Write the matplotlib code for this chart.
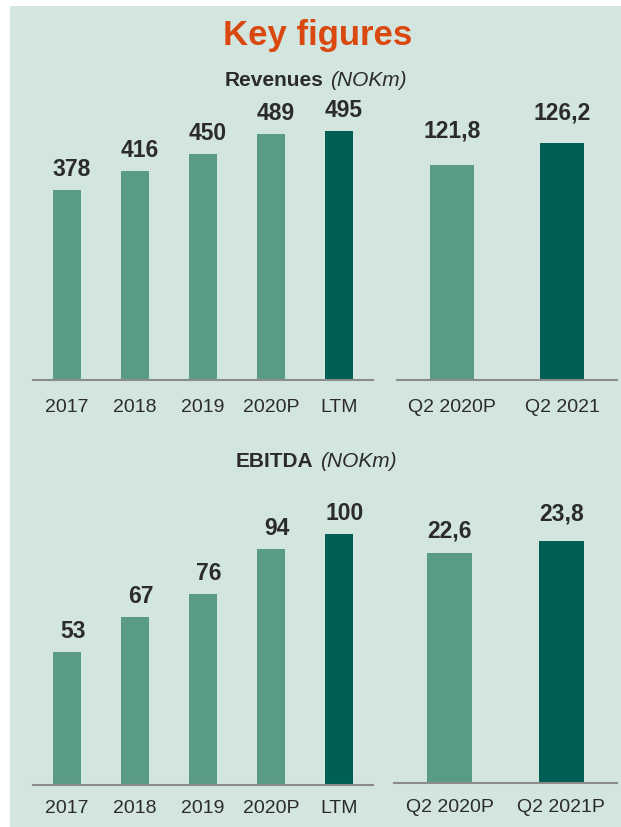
import matplotlib
matplotlib.use("Agg")
import matplotlib.pyplot as plt
from matplotlib.patches import Rectangle

plt.rcParams['font.family'] = ['Liberation Sans', 'DejaVu Sans']

# data
years = ["2017", "2018", "2019", "2020P", "LTM"]
revenues = [378, 416, 450, 489, 495]
ebitda = [53, 67, 76, 94, 100]
rev_q_labels = ["Q2 2020P", "Q2 2021"]
rev_q = [121.8, 126.2]
ebitda_q_labels = ["Q2 2020P", "Q2 2021P"]
ebitda_q = [22.6, 23.8]

LIGHT = "#5a9b84"
DARK = "#005f55"
BG = "#d3e5df"
TXT = "#2b2b2b"
LINE = "#8c8c8c"

W, H = 621, 828
fig = plt.figure(figsize=(W / 100, H / 100), dpi=100)
fig.patch.set_facecolor("white")
fig.patches.append(Rectangle((10 / W, 0), 1 - 10 / W, 1 - 7 / H,
                             transform=fig.transFigure, facecolor=BG,
                             edgecolor="none", zorder=-5))


def px_axes(x0, x1, y0, y1):
    ax = fig.add_axes([x0 / W, 1 - y1 / H, (x1 - x0) / W, (y1 - y0) / H])
    ax.set_facecolor("none")
    return ax


def fmt(v):
    if float(v).is_integer():
        return "%d" % v
    return ("%.1f" % v).replace(".", ",")


def draw(ax, labels, values, ylim, width, pads, dx, tickpad):
    colors = [LIGHT] * (len(values) - 1) + [DARK]
    x = range(len(values))
    ax.bar(x, values, width=width, color=colors, zorder=2)
    for i, v in enumerate(values):
        ax.annotate(fmt(v), (i, v), xytext=(dx, pads[i]), textcoords="offset pixels",
                    ha="center", va="bottom", fontsize=16.5, fontweight="bold",
                    color=TXT)
    ax.set_xlim(-0.5, len(values) - 0.5)
    ax.set_ylim(*ylim)
    ax.set_xticks(list(x))
    ax.set_xticklabels(labels, fontsize=14, color=TXT)
    ax.tick_params(axis="x", length=0, pad=tickpad)
    ax.set_yticks([])
    for s in ["top", "left", "right"]:
        ax.spines[s].set_visible(False)
    ax.spines["bottom"].set_color(LINE)
    ax.spines["bottom"].set_linewidth(1.5)


ax1 = px_axes(33, 373, 100, 381)
draw(ax1, years, revenues, (0, 559), 0.425, [10] * 5, 5, 13)
ax2 = px_axes(397, 617, 100, 381)
draw(ax2, rev_q_labels, rev_q, (80, 134.7), 0.405, [24, 19], 0, 13)
ax3 = px_axes(33, 373, 500, 786)
draw(ax3, years, ebitda, (0, 113.9), 0.425, [10] * 5, 6, 10)
ax4 = px_axes(394, 617, 500, 784)
draw(ax4, ebitda_q_labels, ebitda_q, (0, 27.9), 0.405, [11, 16], 0, 11)

# titles
fig.text(318 / W, 1 - 35 / H, "Key figures", ha="center", va="center",
         fontsize=25, fontweight="bold", color="#d9480f")


def subtitle(xsplit, y, bold):
    fig.text(xsplit / W, 1 - y / H, bold, ha="right", va="center",
             fontsize=15, fontweight="bold", color=TXT)
    fig.text((xsplit + 7) / W, 1 - y / H, "(NOKm)", ha="left", va="center",
             fontsize=15, fontstyle="italic", color=TXT)


subtitle(323, 80, "Revenues")
subtitle(313, 462, "EBITDA")

fig.savefig("out.png", dpi=100, facecolor=fig.get_facecolor())
